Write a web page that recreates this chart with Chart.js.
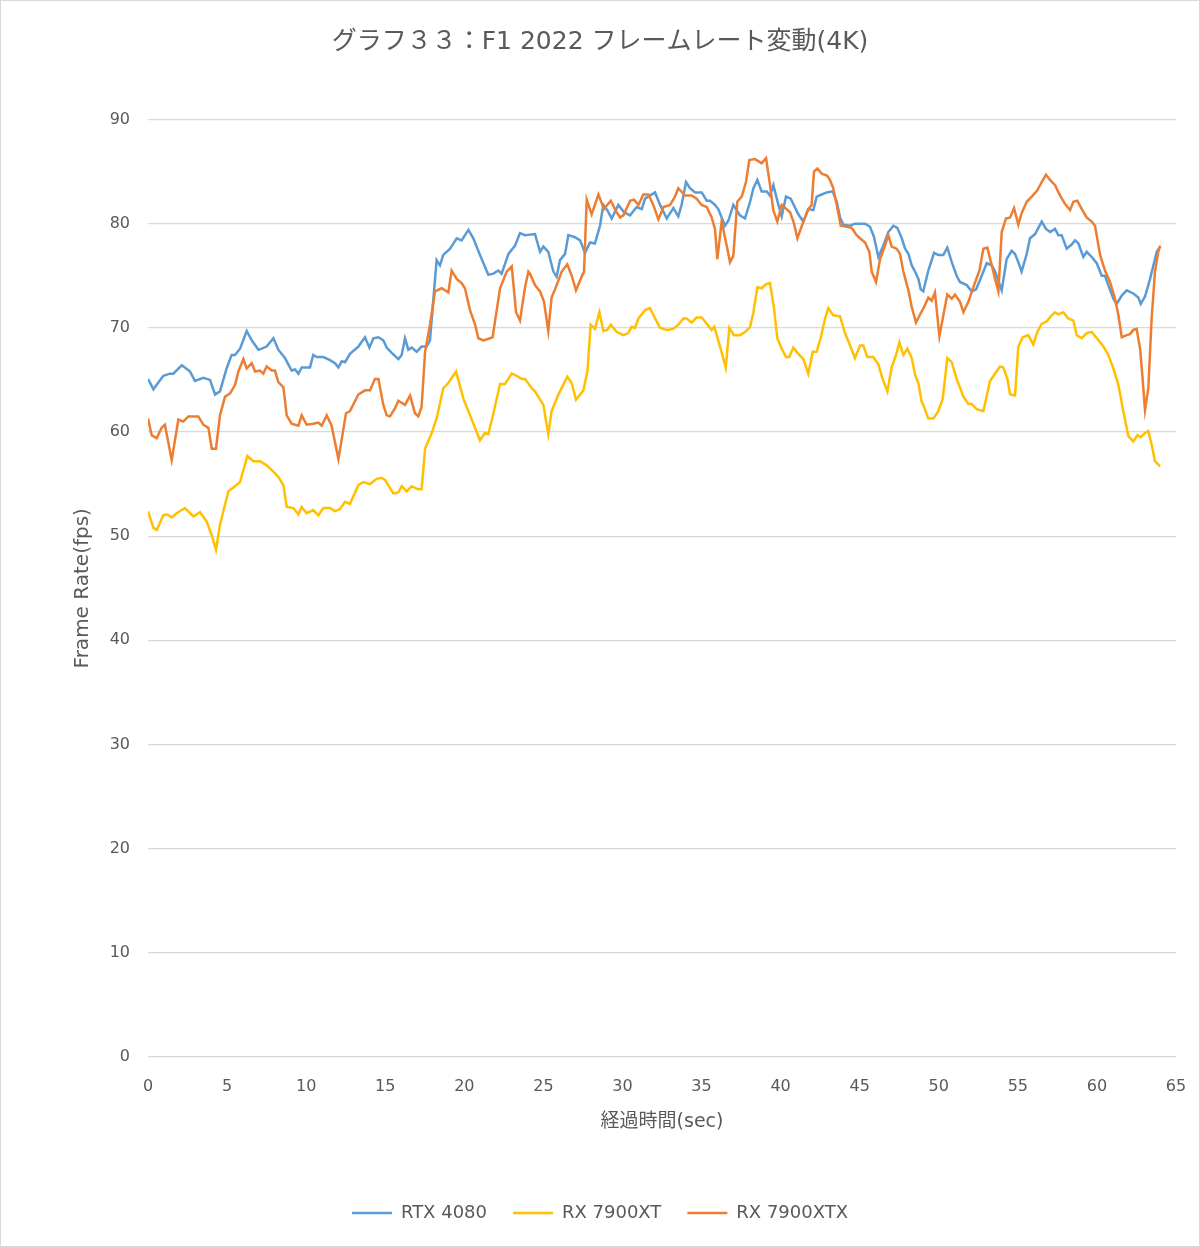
<!DOCTYPE html>
<html lang="ja">
<head>
  <meta charset="UTF-8">
  <title>グラフ３３：F1 2022 フレームレート変動(4K)</title>
  <script src="https://cdn.jsdelivr.net/npm/chart.js"></script>
  <style>
    body { margin: 0; background: #fff; }
    canvas { display: block; }
  </style>
</head>
<body>
  <canvas id="fpsChart" width="1200" height="1247"></canvas>

  <script>
    // 値はグラフから読み取り (経過時間 sec / fps)
    const rtx4080Time = [0, 0.34, 0.97, 1.39, 1.6, 2.13, 2.23, 2.66, 2.97, 3.5, 3.92, 4.24, 4.55, 4.97, 5.29, 5.5, 5.82, 6.24, 6.56, 6.98, 7.19, 7.5, 7.93,
      8.24, 8.66, 9.08, 9.3, 9.51, 9.72, 10.24, 10.45, 10.67, 11.09, 11.51, 11.82, 12.04, 12.25, 12.46, 12.77, 13.3, 13.72, 14.0, 14.25, 14.57, 14.88, 15.09, 15.41, 15.83,
      16.04, 16.25, 16.46, 16.67, 16.99, 17.3, 17.62, 17.83, 18.25, 18.46, 18.67, 19.1, 19.52, 19.83, 20.26, 20.57, 20.99, 21.52, 21.84, 22.15, 22.36, 22.79, 23.21, 23.52, 23.84,
      24.47, 24.79, 25.0, 25.31, 25.63, 25.84, 26.05, 26.37, 26.58, 27.0, 27.32, 27.63, 27.95, 28.26, 28.58, 28.79, 29.04, 29.32, 29.74, 30.1, 30.48, 30.9, 31.22, 31.43, 32.06,
      32.38, 32.8, 33.22, 33.53, 33.74, 34.02, 34.27, 34.59, 35.01, 35.33, 35.54, 35.85, 36.06, 36.48, 36.7, 37.01, 37.43, 37.75, 38.07, 38.28, 38.53, 38.8, 39.12, 39.33, 39.54, 39.86,
      40.07, 40.34, 40.64, 41.12, 41.44, 41.75, 42.07, 42.28, 42.6, 42.91, 43.29, 43.55, 43.76, 43.97, 44.39, 44.7, 45.02, 45.34, 45.65, 45.91, 46.18, 46.5, 46.81, 47.13, 47.38,
      47.66, 47.87, 48.08, 48.29, 48.5, 48.71, 48.86, 49.02, 49.34, 49.7, 49.97, 50.29, 50.54, 50.82, 51.13, 51.34, 51.77, 52.08, 52.36, 52.61, 53.03, 53.35, 53.56, 53.98,
      54.29, 54.61, 54.82, 55.03, 55.24, 55.56, 55.77, 56.09, 56.51, 56.78, 57.04, 57.35, 57.56, 57.77, 58.09, 58.4, 58.62, 58.83, 59.14, 59.35, 59.67, 59.99, 60.3, 60.51,
      60.72, 61.04, 61.25, 61.57, 61.88, 62.3, 62.62, 62.77, 63.04, 63.36, 63.67, 63.78, 64.0];
    const rtx4080Fps = [65.1, 64.1, 65.4, 65.6, 65.6, 66.4, 66.3, 65.8, 64.9, 65.2, 65.0, 63.6, 63.9, 66.1, 67.4, 67.4, 68.0, 69.7, 68.8, 67.9, 68.0, 68.2, 69.0,
      67.9, 67.1, 65.9, 66.0, 65.6, 66.2, 66.2, 67.4, 67.2, 67.2, 66.9, 66.6, 66.2, 66.8, 66.7, 67.5, 68.2, 69.1, 68.1, 69.0, 69.1, 68.8, 68.1, 67.6, 67.0,
      67.4, 69.0, 67.9, 68.1, 67.7, 68.2, 68.2, 68.8, 76.5, 76.0, 77.0, 77.6, 78.6, 78.4, 79.4, 78.6, 77.0, 75.1, 75.2, 75.5, 75.2, 77.1, 77.9, 79.1, 78.9,
      79.0, 77.3, 77.8, 77.3, 75.4, 74.9, 76.5, 77.1, 78.9, 78.7, 78.4, 77.2, 78.2, 78.1, 79.8, 81.8, 81.3, 80.5, 81.8, 81.1, 80.8, 81.6, 81.4, 82.4, 83.0,
      81.8, 80.5, 81.5, 80.7, 81.8, 84.0, 83.4, 83.0, 83.0, 82.2, 82.2, 81.8, 81.4, 79.8, 80.3, 81.8, 80.8, 80.5, 82.1, 83.4, 84.2, 83.1, 83.1, 82.7, 83.7, 81.8,
      80.7, 82.6, 82.4, 80.9, 80.2, 81.4, 81.3, 82.6, 82.8, 83.0, 83.1, 82.1, 80.6, 79.9, 79.8, 80.0, 80.0, 80.0, 79.7, 78.7, 76.8, 77.9, 79.2, 79.8, 79.6,
      78.6, 77.6, 77.1, 76.0, 75.4, 74.7, 73.7, 73.5, 75.5, 77.2, 77.0, 77.0, 77.7, 76.3, 75.0, 74.4, 74.1, 73.5, 73.7, 74.6, 76.2, 76.0, 75.4, 73.6,
      76.6, 77.4, 77.1, 76.3, 75.4, 77.1, 78.6, 79.0, 80.2, 79.5, 79.2, 79.5, 78.9, 78.9, 77.6, 78.0, 78.4, 78.1, 76.8, 77.3, 76.8, 76.2, 75.0, 75.0,
      74.1, 72.8, 72.3, 73.1, 73.6, 73.3, 72.9, 72.3, 73.0, 74.7, 76.6, 77.3, 77.8];

    const rx7900xtTime = [0, 0.34, 0.55, 0.97, 1.18, 1.5, 1.81, 2.34, 2.87, 3.29, 3.71, 4.03, 4.3, 4.55, 5.08, 5.5, 5.82, 6.28, 6.66, 7.08, 7.5, 7.93,
      8.24, 8.56, 8.77, 9.19, 9.51, 9.72, 10.03, 10.45, 10.77, 11.09, 11.51, 11.82, 12.14, 12.46, 12.77, 13.3, 13.62, 14.04, 14.46, 14.78, 14.99, 15.51, 15.83, 16.04,
      16.36, 16.67, 17.09, 17.3, 17.52, 17.94, 18.25, 18.67, 18.99, 19.48, 19.94, 20.47, 20.99, 21.31, 21.52, 21.84, 22.26, 22.57, 23.0, 23.31, 23.63, 23.84, 24.26,
      24.47, 25.0, 25.31, 25.52, 25.95, 26.51, 26.79, 27.06, 27.53, 27.78, 27.99, 28.26, 28.54, 28.79, 29.04, 29.26, 29.64, 30.06, 30.37, 30.58, 30.79, 31.01, 31.43, 31.74,
      32.06, 32.38, 32.8, 33.22, 33.53, 33.85, 34.06, 34.38, 34.69, 35.01, 35.33, 35.64, 35.81, 36.17, 36.53, 36.76, 37.05, 37.43, 37.75, 38.07, 38.28, 38.53, 38.8,
      39.08, 39.33, 39.58, 39.79, 40.07, 40.34, 40.55, 40.8, 41.12, 41.44, 41.75, 42.03, 42.28, 42.53, 42.81, 43.02, 43.33, 43.76, 44.07, 44.39, 44.7, 45.02, 45.23,
      45.48, 45.86, 46.18, 46.45, 46.75, 47.02, 47.3, 47.51, 47.76, 48.01, 48.29, 48.5, 48.71, 48.92, 49.02, 49.34, 49.66, 49.97, 50.25, 50.54, 50.82, 51.13, 51.56,
      51.87, 52.08, 52.4, 52.82, 53.24, 53.56, 53.87, 54.08, 54.34, 54.51, 54.82, 55.03, 55.31, 55.66, 55.98, 56.23, 56.51, 56.82, 57.08, 57.35, 57.56, 57.88, 58.19,
      58.51, 58.72, 59.04, 59.35, 59.67, 59.99, 60.41, 60.72, 61.04, 61.36, 61.67, 61.99, 62.3, 62.56, 62.77, 63.04, 63.25, 63.46, 63.67, 64.0];
    const rx7900xtFps = [52.4, 50.8, 50.6, 52.0, 52.1, 51.8, 52.2, 52.7, 51.9, 52.3, 51.4, 50.1, 48.7, 51.1, 54.3, 54.8, 55.2, 57.7, 57.2, 57.2, 56.8, 56.2,
      55.7, 54.9, 52.8, 52.7, 52.1, 52.8, 52.2, 52.5, 52.0, 52.7, 52.7, 52.4, 52.6, 53.3, 53.1, 54.9, 55.2, 55.0, 55.5, 55.6, 55.4, 54.1, 54.2, 54.8,
      54.3, 54.8, 54.5, 54.5, 58.4, 59.9, 61.3, 64.2, 64.7, 65.8, 63.2, 61.2, 59.2, 59.9, 59.8, 61.8, 64.6, 64.6, 65.6, 65.4, 65.1, 65.1, 64.2,
      63.9, 62.6, 59.8, 62.0, 63.6, 65.3, 64.7, 63.1, 64.0, 65.8, 70.3, 69.9, 71.5, 69.7, 69.8, 70.3, 69.6, 69.3, 69.5, 70.1, 70.0, 70.9, 71.7, 71.9,
      70.9, 70.0, 69.8, 69.9, 70.3, 70.9, 70.9, 70.5, 71.0, 71.0, 70.4, 69.8, 70.1, 68.2, 66.2, 70.0, 69.3, 69.3, 69.6, 70.1, 71.5, 73.9, 73.8,
      74.2, 74.3, 71.9, 69.0, 68.0, 67.2, 67.2, 68.1, 67.5, 67.0, 65.6, 67.7, 67.7, 69.0, 70.9, 71.9, 71.2, 71.1, 69.5, 68.3, 67.1, 68.3, 68.3,
      67.2, 67.2, 66.5, 65.1, 63.9, 66.2, 67.4, 68.6, 67.4, 68.0, 67.1, 65.5, 64.7, 62.9, 62.6, 61.3, 61.3, 62.0, 63.2, 67.1, 66.7, 65.1, 63.4,
      62.7, 62.7, 62.2, 62.0, 64.9, 65.6, 66.3, 66.2, 65.1, 63.6, 63.5, 68.2, 69.1, 69.3, 68.4, 69.6, 70.4, 70.6, 71.1, 71.5, 71.3, 71.5, 70.9,
      70.7, 69.3, 69.0, 69.5, 69.6, 69.0, 68.2, 67.4, 66.1, 64.5, 62.0, 59.6, 59.1, 59.7, 59.5, 59.9, 60.1, 58.8, 57.2, 56.7];

    const rx7900xtxTime = [0, 0.23, 0.55, 0.86, 1.07, 1.5, 1.92, 2.23, 2.55, 3.18, 3.5, 3.82, 4.03, 4.3, 4.55, 4.87, 5.19, 5.5, 5.71, 6.03, 6.24, 6.56, 6.77, 7.08, 7.29, 7.5, 7.82,
      8.03, 8.24, 8.56, 8.77, 9.08, 9.51, 9.72, 10.03, 10.45, 10.77, 10.98, 11.3, 11.61, 12.04, 12.52, 12.77, 13.3, 13.72, 14.04, 14.35, 14.57, 14.88, 15.09, 15.3, 15.62, 15.83,
      15.93, 16.25, 16.57, 16.88, 17.09, 17.3, 17.52, 17.83, 18.15, 18.57, 18.99, 19.2, 19.52, 19.83, 20.04, 20.36, 20.68, 20.89, 21.2, 21.63, 21.79, 22.26, 22.68, 23.0,
      23.27, 23.52, 23.84, 24.05, 24.15, 24.47, 24.79, 25.04, 25.31, 25.52, 25.84, 26.16, 26.51, 26.79, 27.06, 27.42, 27.57, 27.74, 28.05, 28.48, 28.83, 29.26, 29.59,
      29.85, 30.06, 30.48, 30.73, 31.01, 31.32, 31.64, 31.95, 32.27, 32.59, 33.01, 33.32, 33.53, 33.95, 34.38, 34.69, 35.01, 35.33, 35.64, 35.85, 36.0, 36.27, 36.59,
      36.8, 37.01, 37.26, 37.54, 37.81, 38.02, 38.38, 38.59, 38.8, 39.08, 39.33, 39.54, 39.79, 40.07, 40.38, 40.6, 40.85, 41.06, 41.44, 41.75, 41.96, 42.11, 42.32,
      42.6, 42.95, 43.12, 43.33, 43.55, 43.8, 44.18, 44.49, 44.81, 45.02, 45.34, 45.61, 45.76, 46.03, 46.29, 46.6, 46.81, 47.02, 47.34, 47.55, 47.76, 48.08, 48.29,
      48.56, 48.86, 49.07, 49.34, 49.55, 49.76, 50.04, 50.29, 50.54, 50.82, 51.03, 51.34, 51.56, 51.87, 52.19, 52.57, 52.82, 53.07, 53.35, 53.56, 53.77, 53.98, 54.25,
      54.51, 54.76, 55.03, 55.24, 55.56, 55.88, 56.23, 56.51, 56.78, 57.04, 57.35, 57.67, 57.98, 58.3, 58.51, 58.76, 59.04, 59.35, 59.67, 59.88, 60.2, 60.51, 60.83,
      61.14, 61.36, 61.57, 61.88, 62.09, 62.3, 62.51, 62.73, 62.89, 63.04, 63.25, 63.46, 63.67, 63.88, 64.0];
    const rx7900xtxFps = [61.3, 59.7, 59.4, 60.4, 60.7, 57.3, 61.2, 61.0, 61.5, 61.5, 60.7, 60.4, 58.4, 58.4, 61.6, 63.4, 63.7, 64.5, 65.8, 67.0, 66.1, 66.6, 65.8, 65.9, 65.6, 66.3, 65.9,
      65.9, 64.8, 64.3, 61.6, 60.8, 60.6, 61.6, 60.7, 60.8, 60.9, 60.6, 61.6, 60.6, 57.4, 61.8, 62.0, 63.6, 64.0, 64.0, 65.1, 65.1, 62.6, 61.6, 61.5, 62.3, 63.0,
      62.9, 62.6, 63.5, 61.8, 61.5, 62.4, 67.7, 70.3, 73.5, 73.8, 73.4, 75.5, 74.7, 74.3, 73.8, 71.7, 70.3, 69.0, 68.8, 69.0, 69.1, 73.8, 75.4, 75.9,
      71.5, 70.7, 73.9, 75.4, 75.2, 74.1, 73.5, 72.5, 69.7, 72.9, 74.1, 75.4, 76.1, 75.0, 73.6, 74.9, 75.4, 82.3, 80.9, 82.8, 81.4, 82.2, 81.2,
      80.6, 80.8, 82.2, 82.3, 81.8, 82.8, 82.8, 81.8, 80.4, 81.6, 81.8, 82.6, 83.4, 82.7, 82.7, 82.4, 81.8, 81.6, 80.6, 79.5, 76.6, 80.2, 77.9,
      76.3, 76.9, 82.1, 82.6, 84.0, 86.1, 86.2, 86.0, 85.8, 86.3, 83.7, 81.3, 80.2, 81.8, 81.4, 81.1, 80.0, 78.6, 80.2, 81.4, 81.8, 85.0, 85.3,
      84.8, 84.6, 84.2, 83.4, 81.8, 79.8, 79.7, 79.6, 78.9, 78.6, 78.2, 77.3, 75.4, 74.4, 76.6, 77.9, 78.9, 77.8, 77.6, 77.1, 75.4, 73.6, 72.0,
      70.5, 71.4, 72.0, 72.9, 72.6, 73.4, 69.2, 71.2, 73.2, 72.8, 73.2, 72.5, 71.5, 72.5, 73.9, 75.5, 77.6, 77.7, 76.0, 74.7, 73.5, 79.2, 80.5,
      80.6, 81.5, 79.9, 81.0, 82.1, 82.6, 83.2, 84.0, 84.7, 84.2, 83.7, 82.7, 81.9, 81.3, 82.1, 82.2, 81.4, 80.6, 80.2, 79.8, 77.0, 75.5, 74.4,
      72.8, 71.2, 69.1, 69.3, 69.4, 69.8, 69.9, 68.0, 65.1, 62.1, 64.2, 70.9, 75.4, 77.3, 77.9];

    const seriesNames = ['RTX 4080', 'RX 7900XT', 'RX 7900XTX'];
    const seriesColors = ['#5B9BD5', '#FFC000', '#ED7D31'];
    const xTicks = [0, 65, 5];   // min, max, step
    const yTicks = [0, 90, 10];

    const toPoints = (t, v) => t.map((x, i) => ({ x: x, y: v[i] }));
    const seriesData = [
      toPoints(rtx4080Time, rtx4080Fps),
      toPoints(rx7900xtTime, rx7900xtFps),
      toPoints(rx7900xtxTime, rx7900xtxFps)
    ];

    const textColor = '#595959';
    const baseFont = "'DejaVu Sans', 'Noto Sans CJK JP', sans-serif";

    const frame = {
      id: 'frame',
      beforeDraw(chart) {
        const c = chart.ctx;
        c.save();
        c.fillStyle = '#fff';
        c.fillRect(0, 0, chart.width, chart.height);
        c.strokeStyle = '#d9d9d9';
        c.lineWidth = 1;
        c.strokeRect(0.5, 0.5, chart.width - 1, chart.height - 1);
        c.restore();
      }
    };

    new Chart(document.getElementById('fpsChart'), {
      type: 'line',
      data: {
        datasets: seriesData.map((d, i) => ({
          label: seriesNames[i],
          data: d,
          borderColor: seriesColors[i],
          backgroundColor: seriesColors[i],
          borderWidth: 2.5,
          pointRadius: 0,
          tension: 0,
          order: 3 - i
        }))
      },
      options: {
        responsive: false,
        animation: false,
        layout: { padding: { left: 24, right: 24, top: 0, bottom: 15 } },
        plugins: {
          title: {
            display: true,
            text: 'グラフ３３：F1 2022 フレームレート変動(4K)',
            color: textColor,
            font: { family: baseFont, size: 25, weight: 'normal' },
            padding: { top: 27, bottom: 62.5 }
          },
          legend: {
            position: 'bottom',
            labels: {
              color: textColor,
              font: { family: baseFont, size: 18 },
              usePointStyle: true,
              pointStyle: 'line',
              pointStyleWidth: 40,
              padding: 26,
              sort: (a, b) => a.datasetIndex - b.datasetIndex
            }
          },
          tooltip: { enabled: false }
        },
        scales: {
          x: {
            type: 'linear',
            min: xTicks[0],
            max: xTicks[1],
            grid: { display: false },
            border: { display: false },
            ticks: { stepSize: xTicks[2], color: textColor, padding: 12, font: { family: baseFont, size: 16 } },
            title: {
              display: true,
              text: '経過時間(sec)',
              color: textColor,
              font: { family: baseFont, size: 19 },
              padding: { top: 12, bottom: 45 }
            },
            afterFit(scale) { scale.height = 121; }
          },
          y: {
            min: yTicks[0],
            max: yTicks[1],
            grid: { color: '#d9d9d9', lineWidth: 1.3, drawTicks: false },
            border: { display: false },
            ticks: { stepSize: yTicks[2], color: textColor, padding: 18, font: { family: baseFont, size: 16 } },
            title: {
              display: true,
              text: 'Frame Rate(fps)',
              color: textColor,
              font: { family: baseFont, size: 20 },
              padding: { top: 47, bottom: 0 }
            },
            afterFit(scale) { scale.width = 124; }
          }
        }
      },
      plugins: [frame]
    });
  </script>
</body>
</html>
